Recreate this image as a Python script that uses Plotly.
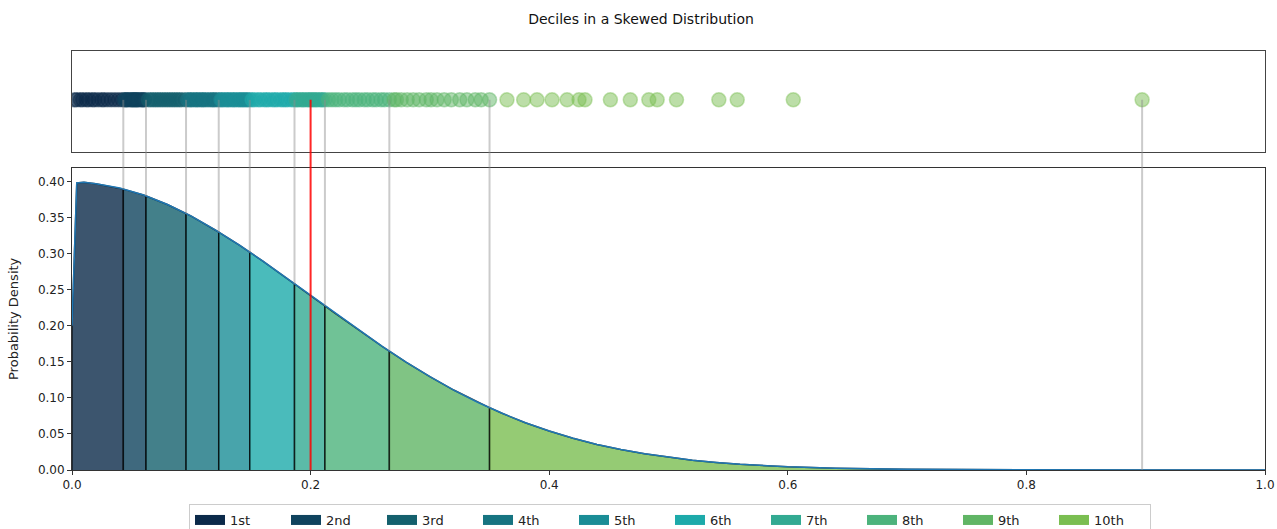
import numpy as np
import plotly.graph_objects as go

# ---------------- data ----------------
decile_labels = ["1st", "2nd", "3rd", "4th", "5th", "6th", "7th", "8th", "9th", "10th"]
decile_colors = ["#0b2a4a", "#0f435e", "#14606d", "#167481", "#1a8d96",
                 "#1daaaa", "#32aa92", "#4cb37c", "#60b565", "#7abe51"]
# decile cut points (10%, 20%, ..., 100%)
decile_edges = [0.043, 0.062, 0.0956, 0.123, 0.149, 0.1865, 0.212, 0.266, 0.350, 0.897]
marker_value = 0.2

sample = [
    0.002, 0.004, 0.007, 0.009, 0.012, 0.014, 0.017, 0.019, 0.022, 0.025, 0.027, 0.030, 0.033, 0.036, 0.039, 0.042,
    0.044, 0.045, 0.046, 0.047, 0.049, 0.050, 0.051, 0.052, 0.053, 0.054, 0.055, 0.056, 0.058, 0.059, 0.060, 0.061,
    0.064, 0.066, 0.068, 0.070, 0.072, 0.074, 0.076, 0.078, 0.080, 0.082, 0.084, 0.086, 0.088, 0.090, 0.092, 0.095,
    0.097, 0.099, 0.100, 0.102, 0.104, 0.105, 0.107, 0.109, 0.110, 0.112, 0.114, 0.116, 0.118, 0.119, 0.121, 0.123,
    0.125, 0.126, 0.128, 0.130, 0.131, 0.133, 0.135, 0.136, 0.138, 0.140, 0.141, 0.143, 0.144, 0.146, 0.147, 0.149,
    0.151, 0.153, 0.156, 0.158, 0.161, 0.163, 0.165, 0.168, 0.170, 0.172, 0.175, 0.177, 0.179, 0.181, 0.184, 0.186,
    0.188, 0.189, 0.191, 0.193, 0.194, 0.196, 0.198, 0.199, 0.201, 0.202, 0.204, 0.205, 0.207, 0.209, 0.210, 0.212,
    0.215, 0.218, 0.221, 0.224, 0.228, 0.231, 0.235, 0.238, 0.241, 0.245, 0.248, 0.252, 0.255, 0.259, 0.262, 0.266,
    0.270, 0.272, 0.276, 0.281, 0.286, 0.291, 0.297, 0.301, 0.306, 0.312, 0.318, 0.325, 0.331, 0.338, 0.343, 0.350,
    0.3646, 0.3786, 0.3898, 0.4024, 0.415, 0.425, 0.430, 0.4513, 0.468, 0.4835, 0.4905, 0.5067, 0.5422, 0.5576, 0.6046, 0.897,
]

curve_x = [0.0, 0.004, 0.01, 0.02, 0.04, 0.06, 0.08, 0.10, 0.12, 0.14, 0.16, 0.18, 0.20, 0.22, 0.24,
           0.26, 0.28, 0.30, 0.32, 0.34, 0.36, 0.38, 0.40, 0.42, 0.44, 0.46, 0.48, 0.50, 0.52, 0.54,
           0.56, 0.60, 0.64, 0.70, 0.80, 0.90, 1.0]
curve_y = [0.200, 0.398, 0.399, 0.397, 0.391, 0.3814, 0.3683, 0.3521, 0.3332, 0.3123, 0.2897, 0.2661,
           0.2420, 0.2179, 0.1942, 0.1714, 0.1497, 0.1295, 0.1109, 0.0940, 0.0790, 0.0656, 0.0540,
           0.0440, 0.0355, 0.0283, 0.0224, 0.0175, 0.0136, 0.0104, 0.0079, 0.0044, 0.0024, 0.0009,
           0.0001, 0.0, 0.0]

# ---------------- layout constants ----------------
Y_MAX = 0.4189
BOT_DOM = [0.0, 0.7208]
TOP_DOM = [0.7597, 1.0]
TOP_RANGE = [-1.03, 0.97]
FONT = "DejaVu Sans"
PLOT_W = 1277 - 72 - 12


def hex_rgba(h, a):
    h = h.lstrip("#")
    return "rgba(%d,%d,%d,%s)" % (int(h[0:2], 16), int(h[2:4], 16), int(h[4:6], 16), a)


def dens(v):
    return float(np.interp(v, curve_x, curve_y))


def bot_paper(v):
    return BOT_DOM[0] + v / Y_MAX * (BOT_DOM[1] - BOT_DOM[0])


def top_paper(v):
    return TOP_DOM[0] + (v - TOP_RANGE[0]) / (TOP_RANGE[1] - TOP_RANGE[0]) * (TOP_DOM[1] - TOP_DOM[0])


fig = go.Figure()

# filled decile areas
lows = [0.0] + decile_edges[:-1]
highs = decile_edges[:-1] + [1.0]
for i, (a, b) in enumerate(zip(lows, highs)):
    inner = [x for x in curve_x if a < x < b]
    xs = [a, a] + inner + [b, b]
    ys = [0.0, dens(a)] + [dens(x) for x in inner] + [dens(b), 0.0]
    fig.add_trace(go.Scatter(
        x=xs, y=ys, mode="lines", fill="toself",
        fillcolor=hex_rgba(decile_colors[i], 0.8),
        line=dict(color="rgba(0,0,0,0.7)", width=1.5),
        showlegend=False, hoverinfo="skip", xaxis="x", yaxis="y"))

# density curve
fig.add_trace(go.Scatter(x=curve_x, y=curve_y, mode="lines",
                         line=dict(color="#1f77b4", width=1.5),
                         showlegend=False, xaxis="x", yaxis="y"))

# strip of sample points, coloured by decile
groups = [[] for _ in decile_labels]
for v in sample:
    k = int(np.searchsorted(decile_edges, v, side="left"))
    k = min(k, len(decile_labels) - 1)
    groups[k].append(v)
for i, vals in enumerate(groups):
    fig.add_trace(go.Scatter(
        x=vals, y=[0] * len(vals), mode="markers",
        marker=dict(size=14, color=hex_rgba(decile_colors[i], 0.5),
                    line=dict(color=hex_rgba(decile_colors[i], 0.45), width=1.5)),
        showlegend=False, xaxis="x2", yaxis="y2", cliponaxis=True))

# legend entries
for lab, col in zip(decile_labels, decile_colors):
    fig.add_trace(go.Scatter(x=[None], y=[None], mode="lines", name=lab,
                             line=dict(color=col, width=10), xaxis="x", yaxis="y"))

# connector lines
shapes = []
for e in decile_edges:
    shapes.append(dict(type="line", xref="x", yref="paper", x0=e, x1=e,
                       y0=top_paper(0), y1=bot_paper(dens(e)),
                       line=dict(color="rgba(140,140,140,0.45)", width=2), layer="above"))
shapes.append(dict(type="line", xref="x", yref="paper", x0=marker_value, x1=marker_value,
                   y0=top_paper(0), y1=bot_paper(0),
                   line=dict(color="rgba(255,0,0,0.85)", width=2), layer="above"))

fig.update_layout(
    width=1277, height=529,
    margin=dict(l=72, r=12, t=51, b=59, autoexpand=False),
    paper_bgcolor="white", plot_bgcolor="white",
    font=dict(family=FONT, size=12, color="#222"),
    title=dict(text="Deciles in a Skewed Distribution", x=0.502, xanchor="center",
               y=1 - 19 / 529, yanchor="middle", font=dict(size=14, color="#111")),
    xaxis=dict(domain=[0, 1], range=[0, 1], tickvals=[0, 0.2, 0.4, 0.6, 0.8, 1.0],
               ticktext=["0.0", "0.2", "0.4", "0.6", "0.8", "1.0"],
               ticks="outside", ticklen=4, tickcolor="#333", showgrid=False, zeroline=False,
               showline=True, linecolor="#333", mirror=True, anchor="y", automargin=False),
    yaxis=dict(domain=BOT_DOM, range=[0, Y_MAX], tickvals=[0, 0.05, 0.1, 0.15, 0.2, 0.25, 0.3, 0.35, 0.4],
               tickformat=".2f", ticks="outside", ticklen=4, tickcolor="#333", showgrid=False,
               zeroline=False, showline=True, linecolor="#333", mirror=True, anchor="x",
               automargin=False),
    xaxis2=dict(domain=[0, 1], range=[0, 1], matches="x", showticklabels=False, ticks="",
                showgrid=False, zeroline=False, showline=True, linecolor="#444", mirror=True,
                anchor="y2", automargin=False),
    yaxis2=dict(domain=TOP_DOM, range=TOP_RANGE, showticklabels=False, ticks="", showgrid=False,
                zeroline=False, showline=True, linecolor="#444", mirror=True, anchor="x2",
                automargin=False),
    legend=dict(orientation="h", x=(670 - 72) / PLOT_W, xanchor="center", y=-34 / 419, yanchor="top",
                bordercolor="#cccccc", borderwidth=1, itemwidth=30,
                entrywidth=51, entrywidthmode="pixels", font=dict(size=13, color="#222"),
                tracegroupgap=0),
    shapes=shapes,
    annotations=[dict(text="Probability Density", xref="paper", yref="paper",
                      x=(14 - 72) / PLOT_W, y=(BOT_DOM[0] + BOT_DOM[1]) / 2,
                      xanchor="center", yanchor="middle", textangle=-90, showarrow=False,
                      font=dict(size=13, color="#222"))],
)

fig.write_html("out.html", config={"displayModeBar": False},
               post_script="document.body.style.margin='0';document.body.style.overflow='hidden';")
